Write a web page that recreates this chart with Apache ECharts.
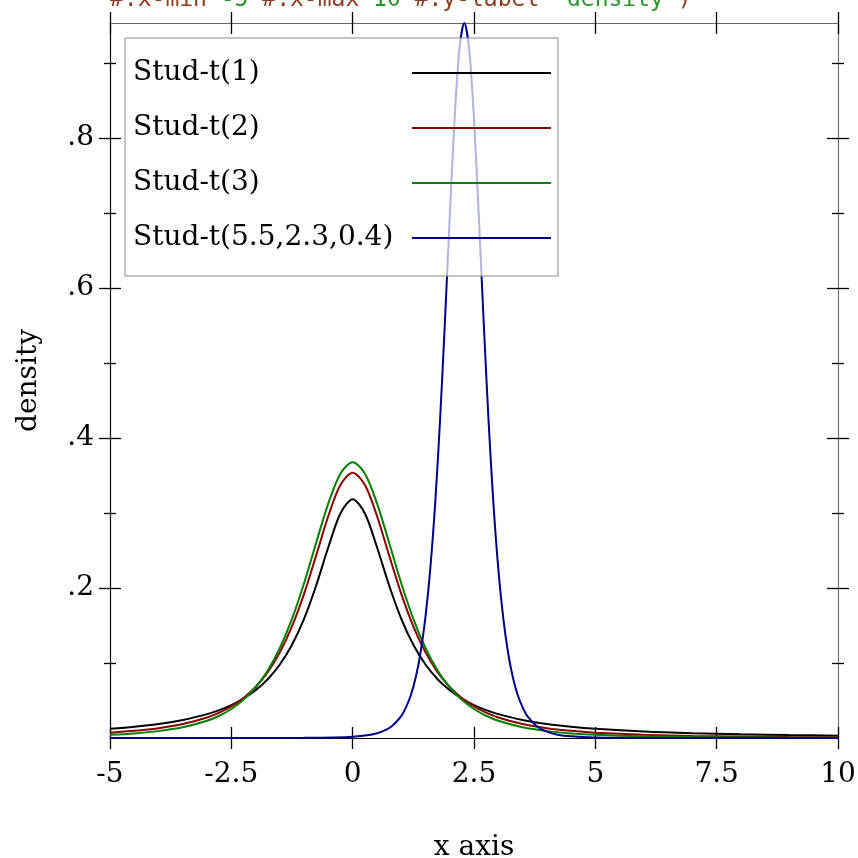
<!DOCTYPE html>
<html><head><meta charset="utf-8">
<script src="https://cdn.jsdelivr.net/npm/echarts@6/dist/echarts.min.js"></script>
<style>html,body{margin:0;padding:0;background:#fff}#c{width:858px;height:858px}</style>
</head><body><div id="c"></div>
<script>
const seriesNames = ['Stud-t(1)', 'Stud-t(2)', 'Stud-t(3)', 'Stud-t(5.5,2.3,0.4)'];
const xGrid = [-5,-4.5,-4,-3.5,-3,-2.75,-2.5,-2.25,-2,-1.75,-1.5,-1.25,-1,-0.75,-0.5,-0.25,0,0.25,0.5,0.75,1,1.25,1.5,1.75,2,2.25,2.5,2.75,3,3.5,4,4.5,5,6,7,8,9,10];
const studT1 = [0.01224,0.01498,0.01872,0.02402,0.03183,0.03718,0.04390,0.05251,0.06366,0.07835,0.09794,0.12422,0.15915,0.20372,0.25465,0.29959,0.31831,0.29959,0.25465,0.20372,0.15915,0.12422,0.09794,0.07835,0.06366,0.05251,0.04390,0.03718,0.03183,0.02402,0.01872,0.01498,0.01224,0.00860,0.00637,0.00490,0.00388,0.00315];
const studT2 = [0.007128,0.009528,0.013095,0.018590,0.027410,0.033817,0.042200,0.053280,0.068041,0.087791,0.114134,0.148719,0.192450,0.243783,0.296296,0.337605,0.353553,0.337605,0.296296,0.243783,0.192450,0.148719,0.114134,0.087791,0.068041,0.053280,0.042200,0.033817,0.027410,0.018590,0.013095,0.009528,0.007128,0.004269,0.002746,0.001865,0.001322,0.000971];
const studT3 = [0.004219,0.006119,0.009163,0.014224,0.022972,0.029650,0.038661,0.050888,0.067510,0.090003,0.120017,0.158913,0.206748,0.260647,0.313181,0.352703,0.367553,0.352703,0.313181,0.260647,0.206748,0.158913,0.120017,0.090003,0.067510,0.050888,0.038661,0.029650,0.022972,0.014224,0.009163,0.006119,0.004219,0.002175,0.001223,0.000737,0.000469,0.000312];
const blueX = [-5,-2.5,-1,-0.4,0,0.4,0.6,0.8,1.0,1.1,1.2,1.3,1.4,1.5,1.6,1.7,1.8,1.9,2.0,2.1,2.2,2.3,2.4,2.5,2.6,2.7,2.8,2.9,3.0,3.1,3.2,3.3,3.4,3.5,3.6,3.8,4.0,4.2,4.5,5,6,8,10];
const blueY = [0.0000015,0.000021,0.000209,0.000683,0.001699,0.004774,0.008426,0.015421,0.029270,0.041200,0.057325,0.080883,0.114340,0.161361,0.226173,0.312729,0.422956,0.553912,0.694689,0.825033,0.918895,0.953268,0.918895,0.825033,0.694689,0.553912,0.422956,0.312729,0.226173,0.161361,0.114340,0.080883,0.057325,0.041200,0.029270,0.015421,0.008426,0.004774,0.002173,0.000683,0.000104,0.00001,0.000002];
const xTickValues = [-5,-2.5,0,2.5,5,7.5,10];
const xTickLabels = ['-5','-2.5','0','2.5','5','7.5','10'];
const yTickValues = [0.2,0.4,0.6,0.8];
const yTickLabels = ['.2','.4','.6','.8'];
const yMinorTickValues = [0.1,0.3,0.5,0.7,0.9];
const xExtent = [-5, 10];
const yExtent = [0, 0.953268];

const FONT = '"DejaVu Serif", serif';
const FS = 28;
function lookup(vals, labels) {
  return function (v) {
    const i = vals.findIndex(t => Math.abs(t - v) < 1e-9);
    return i >= 0 ? labels[i] : '';
  };
}
function ax(ext, extra) {
  return Object.assign({
    type: 'value', min: ext[0], max: ext[1],
    splitLine: { show: false },
    axisLine: { show: false, onZero: false },
    axisTick: { show: false },
    axisLabel: { show: false }
  }, extra);
}
const tickStyle = { color: '#000', width: 1.3 };
const xAxes = [
  ax(xExtent, { position: 'bottom',
    axisLine: { show: true, onZero: false, lineStyle: { color: '#000', width: 1.2 } },
    axisLabel: { show: true, customValues: xTickValues, formatter: lookup(xTickValues, xTickLabels),
      margin: 23, fontFamily: FONT, fontSize: FS, color: '#000' },
    name: 'x axis', nameLocation: 'middle', nameGap: 96,
    nameTextStyle: { fontFamily: FONT, fontSize: FS, color: '#000' } }),
  ax(xExtent, { position: 'bottom', offset: 11,
    axisTick: { show: true, customValues: xTickValues, inside: true, length: 22, lineStyle: tickStyle } }),
  ax(xExtent, { position: 'top',
    axisLine: { show: true, onZero: false, lineStyle: { color: '#666', width: 1.2 } } }),
  ax(xExtent, { position: 'top', offset: 11,
    axisTick: { show: true, customValues: xTickValues, inside: true, length: 22, lineStyle: tickStyle } })
];
const yAxes = [
  ax(yExtent, { position: 'left',
    axisLine: { show: true, onZero: false, lineStyle: { color: '#000', width: 1.2 } },
    axisLabel: { show: true, customValues: yTickValues, formatter: lookup(yTickValues, yTickLabels),
      margin: 16, fontFamily: FONT, fontSize: FS, color: '#000' },
    name: 'density', nameLocation: 'middle', nameGap: 67, nameRotate: 90,
    nameTextStyle: { fontFamily: FONT, fontSize: FS, color: '#000' } }),
  ax(yExtent, { position: 'left', offset: 11,
    axisTick: { show: true, customValues: yTickValues, inside: true, length: 22, lineStyle: tickStyle } }),
  ax(yExtent, { position: 'left', offset: 6,
    axisTick: { show: true, customValues: yMinorTickValues, inside: true, length: 12, lineStyle: tickStyle } }),
  ax(yExtent, { position: 'right',
    axisLine: { show: true, onZero: false, lineStyle: { color: '#777', width: 1.2 } } }),
  ax(yExtent, { position: 'right', offset: 11,
    axisTick: { show: true, customValues: yTickValues, inside: true, length: 22, lineStyle: tickStyle } }),
  ax(yExtent, { position: 'right', offset: 6,
    axisTick: { show: true, customValues: yMinorTickValues, inside: true, length: 12, lineStyle: tickStyle } })
];

function lineSeries(name, xs, ys, color) {
  return {
    type: 'line', name: name, xAxisIndex: 0, yAxisIndex: 0,
    data: xs.map((x, i) => [x, ys[i]]),
    showSymbol: false, symbol: 'none', smooth: 0.3, clip: true, silent: true,
    lineStyle: { width: 2, color: color }, itemStyle: { color: color }
  };
}

const chart = echarts.init(document.getElementById('c'), null, { renderer: 'canvas' });
chart.setOption({
  animation: false,
  backgroundColor: '#fff',
  grid: { left: 110, right: 20, top: 23, bottom: 120, containLabel: false, outerBoundsMode: 'none' },
  xAxis: xAxes,
  yAxis: yAxes,
  legend: {
    orient: 'vertical', left: 125, top: 38, padding: [19, 7, 22, 8],
    itemGap: 23, itemWidth: 139, itemHeight: 2, icon: 'rect', align: 'right',
    backgroundColor: 'rgba(255,255,255,0.7)', borderColor: '#888', borderWidth: 1,
    selectedMode: false,
    formatter: '{a|{name}}',
    textStyle: { rich: { a: { width: 274, height: 32, lineHeight: 32, fontSize: FS, fontFamily: FONT, color: '#000', align: 'left' } } },
    data: seriesNames
  },
  series: [
    lineSeries(seriesNames[0], xGrid, studT1, '#000000'),
    lineSeries(seriesNames[1], xGrid, studT2, '#8b0000'),
    lineSeries(seriesNames[2], xGrid, studT3, '#008000'),
    lineSeries(seriesNames[3], blueX, blueY, '#00008b')
  ],
  graphic: [{
    type: 'text', x: 110, y: 0, z: 100, silent: true,
    style: {
      text: '{k|#:x-min }{v|-5 }{k|#:x-max }{v|10 }{k|#:y-label }{v|"density"}{k|)}',
      verticalAlign: 'middle',
      rich: {
        k: { fontFamily: '"DejaVu Sans Mono", monospace', fontSize: 23, fill: '#8c3c1e' },
        v: { fontFamily: '"DejaVu Sans Mono", monospace', fontSize: 23, fill: '#2a962a' }
      }
    }
  }]
});
</script>
</body></html>
